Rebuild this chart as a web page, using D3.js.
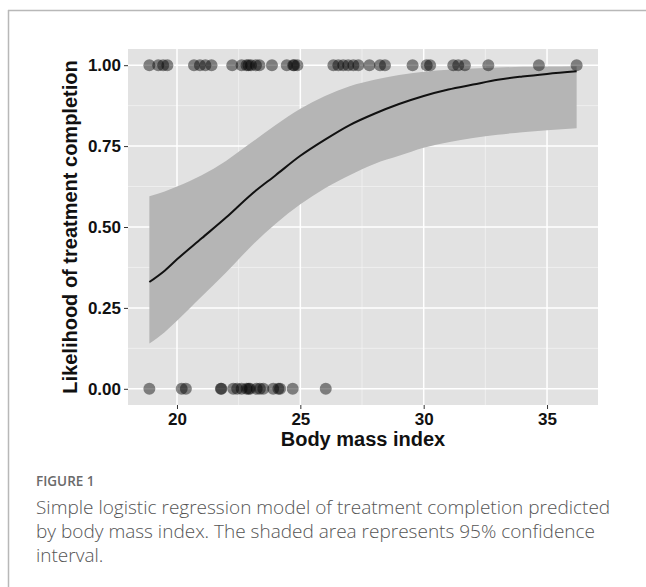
<!DOCTYPE html>
<html>
<head>
<meta charset="utf-8">
<script src="https://cdn.jsdelivr.net/npm/d3@7"></script>
<style>
  html, body { margin: 0; padding: 0; background: #fff; }
  svg { display: block; }
</style>
</head>
<body>
<svg id="chart" width="646" height="587"></svg>
<script>
// ---------------- data ----------------
const bmiCompleted = [18.88, 19.24, 19.44, 19.61, 20.69, 20.93, 21.15, 21.40, 22.24, 22.62, 22.82, 22.90, 23.00, 23.20, 23.34,
  23.85, 24.45, 24.71, 24.75, 24.88, 26.34, 26.54, 26.74, 26.94, 27.15, 27.35, 27.80, 28.23, 28.43,
  29.55, 30.12, 30.26, 31.20, 31.40, 31.67, 32.62, 34.67, 36.20];
const bmiNotCompleted = [18.88, 20.19, 20.36, 21.78, 21.80, 22.28, 22.44, 22.62, 22.82, 22.90, 22.96, 23.23, 23.36, 23.50,
  23.90, 24.11, 24.18, 24.69, 26.03];
const fitX   = [18.88, 19.5, 20, 21, 22, 23, 24, 25, 26, 27, 28, 29, 30, 31, 32, 33, 34, 35, 36.2];
const fitY   = [0.33, 0.365, 0.40, 0.465, 0.53, 0.60, 0.66, 0.72, 0.77, 0.815, 0.85, 0.88, 0.905, 0.925, 0.94, 0.955, 0.965, 0.973, 0.981];
const ciUpper = [0.595, 0.61, 0.625, 0.66, 0.705, 0.76, 0.815, 0.865, 0.905, 0.935, 0.955, 0.97, 0.98, 0.986, 0.99, 0.993, 0.995, 0.996, 0.997];
const ciLower = [0.14, 0.175, 0.21, 0.285, 0.36, 0.44, 0.51, 0.57, 0.62, 0.66, 0.695, 0.72, 0.745, 0.762, 0.775, 0.785, 0.793, 0.799, 0.805];
const xTicks = [20, 25, 30, 35];
const xMinor = [22.5, 27.5, 32.5];
const yTicks = [0, 0.25, 0.5, 0.75, 1];
const yMinor = [0.125, 0.375, 0.625, 0.875];
const xTitle = "Body mass index";
const yTitle = "Likelihood of treatment completion";
const figLabel = "FIGURE 1";
const captionLines = [
  "Simple logistic regression model of treatment completion predicted",
  "by body mass index. The shaded area represents 95% confidence",
  "interval."
];

// ---------------- layout ----------------
const svg = d3.select("#chart");
const panel = {left: 128, right: 598, top: 49, bottom: 405};

const allX = bmiCompleted.concat(bmiNotCompleted);
const [xmin, xmax] = d3.extent(allX);
const xpad = (xmax - xmin) * 0.05;
const x = d3.scaleLinear().domain([xmin - xpad, xmax + xpad]).range([panel.left, panel.right]);
const y = d3.scaleLinear().domain([-0.05, 1.05]).range([panel.bottom, panel.top]);

// frame lines of the figure box
svg.append("line").attr("x1", 8).attr("x2", 646).attr("y1", 10.5).attr("y2", 10.5)
  .attr("stroke", "#b8b8b8").attr("stroke-width", 1.5);
svg.append("line").attr("x1", 8.5).attr("x2", 8.5).attr("y1", 10).attr("y2", 587)
  .attr("stroke", "#b8b8b8").attr("stroke-width", 1.5);

// panel background
svg.append("rect").attr("x", panel.left).attr("y", panel.top)
  .attr("width", panel.right - panel.left).attr("height", panel.bottom - panel.top)
  .attr("fill", "#e2e2e2");

const grid = svg.append("g");
grid.selectAll(".ym").data(yMinor).join("line")
  .attr("x1", panel.left).attr("x2", panel.right)
  .attr("y1", d => y(d)).attr("y2", d => y(d))
  .attr("stroke", "#f2f2f2").attr("stroke-width", 0.8);
grid.selectAll(".xm").data(xMinor).join("line")
  .attr("y1", panel.top).attr("y2", panel.bottom)
  .attr("x1", d => x(d)).attr("x2", d => x(d))
  .attr("stroke", "#f2f2f2").attr("stroke-width", 0.8);
grid.selectAll(".yM").data(yTicks).join("line")
  .attr("x1", panel.left).attr("x2", panel.right)
  .attr("y1", d => y(d)).attr("y2", d => y(d))
  .attr("stroke", "#ffffff").attr("stroke-width", 1.5);
grid.selectAll(".xM").data(xTicks).join("line")
  .attr("y1", panel.top).attr("y2", panel.bottom)
  .attr("x1", d => x(d)).attr("x2", d => x(d))
  .attr("stroke", "#ffffff").attr("stroke-width", 1.5);

// confidence band
const band = fitX.map((d, i) => ({x: d, lo: ciLower[i], hi: ciUpper[i], y: fitY[i]}));
svg.append("path").datum(band)
  .attr("fill", "#b5b5b5")
  .attr("d", d3.area().curve(d3.curveMonotoneX)
    .x(d => x(d.x)).y0(d => y(d.lo)).y1(d => y(d.hi)));

// points
const pts = bmiCompleted.map(v => ({x: v, y: 1})).concat(bmiNotCompleted.map(v => ({x: v, y: 0})));
svg.append("g").selectAll("circle").data(pts).join("circle")
  .attr("cx", d => x(d.x)).attr("cy", d => y(d.y)).attr("r", 6)
  .attr("fill", "#000").attr("fill-opacity", 0.45);

// fitted curve
svg.append("path").datum(band)
  .attr("fill", "none").attr("stroke", "#111").attr("stroke-width", 2)
  .attr("d", d3.line().curve(d3.curveMonotoneX).x(d => x(d.x)).y(d => y(d.y)));

// axes
const fmt = d3.format(".2f");
const xAxis = svg.append("g").attr("transform", `translate(0,${panel.bottom})`)
  .call(d3.axisBottom(x).tickValues(xTicks).tickSize(4).tickPadding(4).tickFormat(d3.format("d")));
const yAxis = svg.append("g").attr("transform", `translate(${panel.left},0)`)
  .call(d3.axisLeft(y).tickValues(yTicks).tickSize(4).tickPadding(3).tickFormat(fmt));
[xAxis, yAxis].forEach(a => {
  a.select(".domain").remove();
  a.selectAll(".tick line").attr("stroke", "#333").attr("stroke-width", 1);
  a.selectAll(".tick text").attr("fill", "#111")
    .style("font-family", "'Liberation Sans', Arial, sans-serif")
    .style("font-weight", "bold").style("font-size", "17px");
});

// axis titles
svg.append("text").text(xTitle)
  .attr("x", (panel.left + panel.right) / 2).attr("y", 446)
  .attr("text-anchor", "middle")
  .style("font-family", "'Liberation Sans', Arial, sans-serif")
  .style("font-weight", "bold").style("font-size", "20px").attr("fill", "#111");
svg.append("text").text(yTitle)
  .attr("transform", `translate(77,${(panel.top + panel.bottom) / 2}) rotate(-90)`)
  .attr("text-anchor", "middle")
  .style("font-family", "'Liberation Sans', Arial, sans-serif")
  .style("font-weight", "bold").style("font-size", "20px").attr("fill", "#111");

// caption
svg.append("text").text(figLabel)
  .attr("x", 36).attr("y", 486)
  .style("font-family", "'Open Sans', 'Noto Sans', sans-serif")
  .style("font-weight", "600").style("font-size", "13.5px").attr("fill", "#6a6a6a");
svg.append("g").selectAll("text").data(captionLines).join("text")
  .text(d => d)
  .attr("x", 36).attr("y", (d, i) => 514 + i * 24)
  .style("font-family", "'Open Sans', 'Noto Sans', sans-serif")
  .style("font-weight", "300").style("font-size", "19px").attr("fill", "#555");
</script>
</body>
</html>
